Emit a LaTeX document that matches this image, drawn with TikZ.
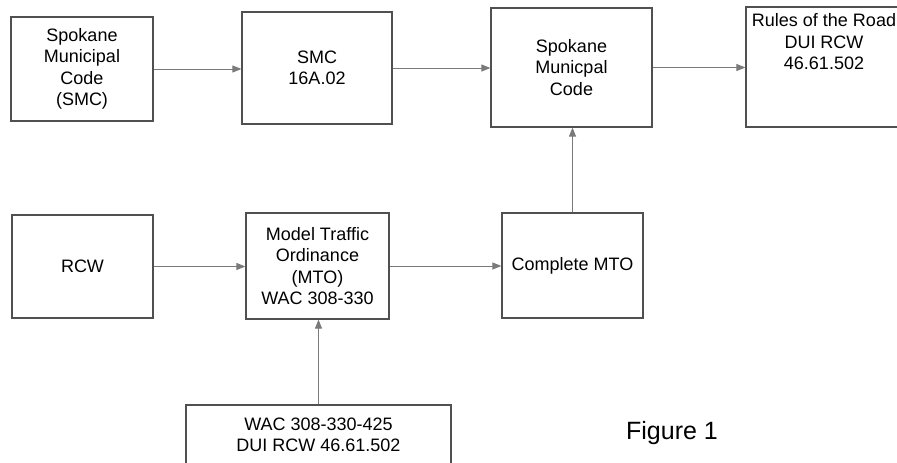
\documentclass[tikz,border=0pt]{standalone}
\usepackage{fontspec}
\setmainfont{Liberation Sans}
\usepackage{tikz}
\usetikzlibrary{arrows.meta, positioning}
\definecolor{boxline}{HTML}{505050}
\definecolor{wire}{HTML}{7A7A7A}
\tikzset{
  codebox/.style={rectangle, draw=boxline, line width=1.2pt, align=center, text centered, inner sep=2pt, text=black, font=\fontsize{18}{21.5}\selectfont},
  boxtext/.style={align=center, inner sep=0pt, text=black, font=\fontsize{18}{21.5}\selectfont},
  arrow/.style={draw=wire, line width=1pt, -{Triangle[length=9pt,width=7pt]}}
}

\begin{document}
\begin{tikzpicture}[x=1pt, y=-1pt]
    \useasboundingbox (0,0) rectangle (897,463);

    % Fila superior
    \node[codebox, minimum width=142pt, minimum height=104pt] (smc) at (82,69) {Spokane\\Municipal\\Code\\(SMC)};
    \node[codebox, minimum width=150pt, minimum height=112pt] (smca) at (317,68) {SMC\\16A.02};
    \node[codebox, minimum width=161pt, minimum height=119pt] (spk) at (571.5,67.5) {Spokane\\Municpal\\Code};
    \node[codebox, minimum width=156pt, minimum height=120pt] (road) at (824,67) {};
    \node[boxtext, below=7pt of road.north] (roadtxt) {Rules of the Road\\DUI RCW\\46.61.502};

    % Fila inferior
    \node[codebox, minimum width=141pt, minimum height=103pt] (rcw) at (82.5,266.5) {RCW};
    \node[codebox, minimum width=143pt, minimum height=106pt] (mto) at (317.5,266) {Model Traffic\\Ordinance\\(MTO)\\WAC 308-330};
    \node[codebox, minimum width=141pt, minimum height=105pt] (cmto) at (572.5,265.5) {Complete MTO};

    % Caja inferior (cortada por el borde)
    \node[codebox, minimum width=265pt, minimum height=80pt] (wac) at (318.5,445) {};
    \node[boxtext, below=13pt of wac.north] (wactxt) {WAC 308-330-425\\DUI RCW 46.61.502};

    \node[font=\fontsize{25}{30}\selectfont, text=black] (fig) at (672,433) {Figure 1};

    % -------------------------------------------------------------
    % FLECHAS
    % -------------------------------------------------------------
    \draw[arrow] (smc.east) -- (smc.east -| smca.west);
    \draw[arrow] (smca.east) -- (smca.east -| spk.west);
    \draw[arrow] (spk.east) -- (spk.east -| road.west);

    \draw[arrow] (rcw.east) -- (rcw.east -| mto.west);
    \draw[arrow] (mto.east) -- (mto.east -| cmto.west);

    \draw[arrow] (wac.north) -- (wac.north |- mto.south);
    \draw[arrow] (cmto.north) -- (cmto.north |- spk.south);

\end{tikzpicture}
\end{document}
